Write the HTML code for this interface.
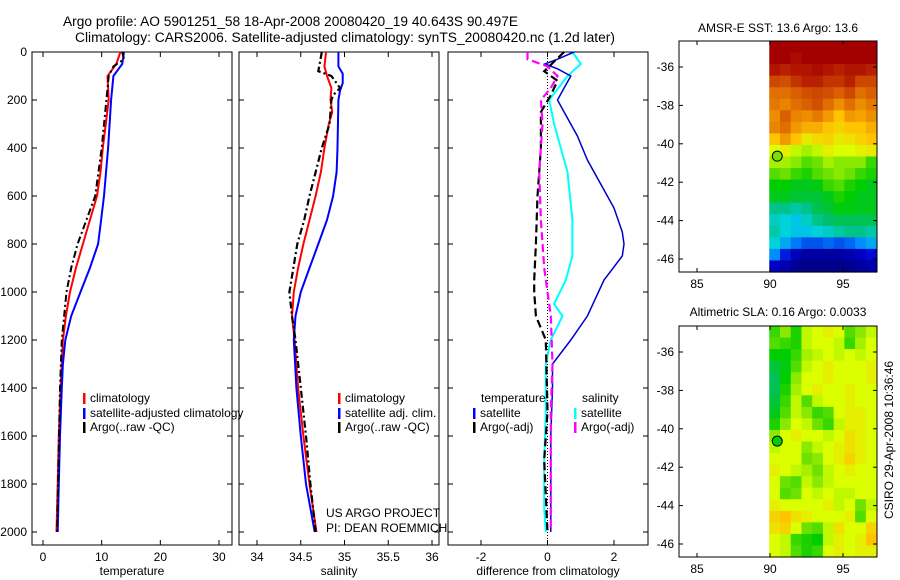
<!DOCTYPE html>
<html><head><meta charset="utf-8"><style>
body{margin:0;background:#fff;}
svg{display:block;font-family:"Liberation Sans",sans-serif;}
</style></head><body>
<svg id="fig" width="900" height="580" viewBox="0 0 900 580" xmlns="http://www.w3.org/2000/svg">
<rect width="900" height="580" fill="#fff"/>
<text x="63" y="26" font-size="13.5" textLength="455" lengthAdjust="spacingAndGlyphs">Argo profile: AO 5901251_58 18-Apr-2008 20080420_19 40.643S 90.497E</text>
<text x="75" y="42" font-size="13.5" textLength="540" lengthAdjust="spacingAndGlyphs">Climatology: CARS2006. Satellite-adjusted climatology: synTS_20080420.nc (1.2d later)</text>
<text x="778" y="32" font-size="12" text-anchor="middle">AMSR-E SST: 13.6 Argo: 13.6</text>
<text x="778" y="316" font-size="12" text-anchor="middle">Altimetric SLA: 0.16 Argo: 0.0033</text>
<text transform="translate(893,440) rotate(-90)" font-size="12" text-anchor="middle">CSIRO 29-Apr-2008 10:36:46</text>
<text x="326" y="517" font-size="12">US ARGO PROJECT</text>
<text x="326" y="532" font-size="12">PI: DEAN ROEMMICH</text>
<g id="layer"></g>
</svg>
<script>
// ---- profile data ----
const tDepthClim=[0,50,100,200,300,400,500,600,700,800,900,1000,1100,1200,1400,1600,1800,2000];
const tempClim=[13.2,12.5,11.0,11.2,10.7,10.2,9.8,9.2,8.0,6.8,5.6,4.6,3.9,3.4,3.0,2.7,2.5,2.3];
const tDepthSat=[0,50,100,200,400,600,700,800,900,1000,1100,1200,1300,1400,1600,1800,2000];
const tempSat=[13.8,13.5,12.0,11.6,11.1,10.4,9.9,9.4,8.0,6.4,4.8,3.8,3.4,3.2,2.9,2.7,2.5];
const tDepthArgo=[0,30,60,100,200,400,600,800,900,1000,1200,1400,2000];
const tempArgo=[13.5,13.8,12.0,11.2,10.8,10.0,8.9,5.9,4.8,4.0,3.2,2.9,2.4];

const sDepthClim=[0,60,100,150,200,250,300,400,500,600,700,800,900,1000,1100,1200,1400,1600,1800,2000];
const salClim=[34.79,34.77,34.8,34.85,34.84,34.86,34.82,34.77,34.73,34.67,34.6,34.53,34.47,34.42,34.4,34.43,34.47,34.53,34.6,34.68];
const sDepthSat=[0,60,90,130,160,200,400,500,600,700,800,900,1000,1100,1200,1400,1600,1800,2000];
const salSat=[34.93,34.93,34.98,34.98,34.95,34.93,34.92,34.91,34.87,34.8,34.7,34.6,34.5,34.44,34.42,34.45,34.5,34.56,34.66];
const sDepthArgo=[0,80,100,150,180,200,300,400,600,700,800,1000,1100,1200,1400,1600,1800,2000];
const salArgo=[34.74,34.7,34.85,34.95,34.87,34.85,34.83,34.74,34.6,34.54,34.46,34.37,34.4,34.44,34.5,34.56,34.61,34.67];

const dDepthTS=[0,30,50,70,100,150,200,250,350,450,550,650,750,800,850,950,1100,1200,1300,1400,1600,2000];
const diffTempSat=[0.8,0.3,-0.08,0.3,0.7,0.5,0.3,0.5,0.9,1.2,1.6,2.0,2.25,2.3,2.25,1.7,1.2,0.7,0.15,0.15,0.1,0.1];
const dDepthSS=[0,50,100,200,300,500,700,850,950,1050,1100,1200,1300,1500,1700,1900,2000];
const diffSalSat=[0.75,1.0,0.6,0.05,0.2,0.6,0.75,0.75,0.55,0.2,0.45,0.1,-0.05,-0.05,-0.1,-0.1,-0.05];
const dDepthTA=[0,40,80,120,180,250,400,600,800,950,1000,1100,1200,1500,1700,2000];
const diffTempArgo=[0.5,0.2,-0.1,0.3,0.1,-0.2,-0.2,-0.3,-0.35,-0.4,-0.4,-0.35,-0.05,0,-0.1,0];
const dDepthSA=[0,30,60,100,150,200,300,500,700,900,1100,1300,1500,2000];
const diffSalArgo=[-0.6,-0.6,0.0,0.3,0.1,-0.2,-0.15,-0.25,-0.2,-0.1,0.1,0.15,0.1,0.1];

const depthTicks=[0,200,400,600,800,1000,1200,1400,1600,1800,2000];
const tempTicks=[0,10,20,30];
const salTicks=[34,34.5,35,35.5,36];
const diffTicks=[-2,0,2];
const latTicks=[-36,-38,-40,-42,-44,-46];
const lonTicks=[85,90,95];

// ---- map data (values 0..1 on colour scale), rows north->south ----
const sstGrid=[
[1,1,1,1,1,1,1,1,1,1],
[1,1,0.99,1,1,1,1,1,1,1],
[0.98,0.97,0.98,0.98,0.99,0.98,0.97,0.98,0.98,0.97],
[0.93,0.92,0.95,0.97,0.97,0.95,0.95,0.97,0.93,0.93],
[0.88,0.88,0.9,0.92,0.93,0.92,0.9,0.93,0.88,0.9],
[0.87,0.86,0.88,0.9,0.92,0.88,0.85,0.88,0.85,0.87],
[0.85,0.9,0.86,0.85,0.87,0.84,0.8,0.84,0.83,0.85],
[0.86,0.88,0.84,0.82,0.82,0.8,0.78,0.8,0.8,0.82],
[0.8,0.84,0.8,0.75,0.77,0.78,0.75,0.76,0.78,0.8],
[0.72,0.74,0.7,0.68,0.7,0.74,0.72,0.72,0.74,0.75],
[0.68,0.68,0.66,0.62,0.64,0.68,0.66,0.66,0.66,0.6],
[0.62,0.64,0.6,0.58,0.62,0.64,0.66,0.64,0.6,0.58],
[0.56,0.56,0.54,0.54,0.55,0.6,0.62,0.58,0.56,0.54],
[0.54,0.54,0.52,0.52,0.52,0.54,0.58,0.56,0.54,0.54],
[0.46,0.46,0.44,0.46,0.5,0.52,0.55,0.55,0.54,0.54],
[0.42,0.4,0.38,0.42,0.46,0.48,0.5,0.5,0.5,0.5],
[0.44,0.4,0.38,0.38,0.4,0.42,0.44,0.46,0.46,0.44],
[0.4,0.34,0.28,0.24,0.24,0.26,0.24,0.26,0.3,0.34],
[0.3,0.18,0.1,0.06,0.06,0.06,0.06,0.08,0.12,0.16],
[0.12,0.08,0.04,0.02,0.02,0.02,0.02,0.03,0.06,0.08]];
const slaGrid=[
[0.6,0.66,0.58,0.7,0.72,0.74,0.72,0.62,0.66,0.7],
[0.62,0.6,0.58,0.7,0.72,0.72,0.7,0.6,0.68,0.72],
[0.56,0.56,0.6,0.68,0.7,0.72,0.7,0.72,0.7,0.72],
[0.52,0.55,0.62,0.7,0.72,0.74,0.72,0.72,0.72,0.74],
[0.5,0.56,0.66,0.72,0.72,0.74,0.72,0.72,0.72,0.74],
[0.5,0.58,0.68,0.72,0.74,0.72,0.72,0.74,0.72,0.72],
[0.52,0.6,0.7,0.62,0.7,0.72,0.72,0.74,0.72,0.72],
[0.54,0.62,0.7,0.66,0.6,0.62,0.72,0.74,0.74,0.72],
[0.58,0.66,0.72,0.7,0.64,0.6,0.7,0.74,0.74,0.72],
[0.66,0.72,0.74,0.72,0.72,0.7,0.72,0.76,0.74,0.72],
[0.7,0.72,0.72,0.66,0.7,0.72,0.74,0.76,0.74,0.72],
[0.72,0.72,0.72,0.64,0.66,0.72,0.74,0.78,0.74,0.72],
[0.74,0.72,0.7,0.68,0.64,0.7,0.72,0.74,0.72,0.72],
[0.72,0.64,0.62,0.7,0.66,0.7,0.72,0.72,0.72,0.72],
[0.72,0.62,0.64,0.72,0.7,0.72,0.7,0.7,0.72,0.72],
[0.74,0.72,0.72,0.72,0.72,0.74,0.7,0.72,0.64,0.7],
[0.78,0.8,0.76,0.74,0.72,0.72,0.72,0.74,0.62,0.72],
[0.76,0.78,0.72,0.64,0.62,0.7,0.76,0.72,0.72,0.78],
[0.72,0.7,0.6,0.58,0.56,0.7,0.74,0.72,0.74,0.8],
[0.72,0.7,0.62,0.58,0.6,0.72,0.74,0.72,0.74,0.74]];
const argoLon=[90.497];
const argoLat=[-40.643];

const NS='http://www.w3.org/2000/svg';
const layer=document.getElementById('layer');
function el(tag,attrs,parent){const e=document.createElementNS(NS,tag);for(const k in attrs)e.setAttribute(k,attrs[k]);(parent||layer).appendChild(e);return e;}

const yTop=52,yBot=545;
const depthY=d=>52+d*0.24;
function lin(d0,d1,r0,r1){return v=>r0+(v-d0)*(r1-r0)/(d1-d0);}

const panels=[
 {name:'temperature-panel',x0:32,x1:232,xs:lin(0,30,43,219),ticks:tempTicks,label:'temperature',yl:true},
 {name:'salinity-panel',x0:239,x1:439,xs:lin(34,36,257,432),ticks:salTicks,label:'salinity'},
 {name:'difference-panel',x0:448,x1:648,xs:lin(-2,2,481,614),ticks:diffTicks,label:'difference from climatology'}
];
panels.forEach(p=>{
 const g=el('g',{});
 
 
 p.g=g;
 el('rect',{x:p.x0,y:yTop,width:p.x1-p.x0,height:yBot-yTop,fill:'none',stroke:'#000','stroke-width':1},g);
 depthTicks.forEach(d=>{const y=depthY(d);
  el('line',{x1:p.x0,x2:p.x0+5,y1:y,y2:y,stroke:'#000'},g);
  el('line',{x1:p.x1,x2:p.x1-5,y1:y,y2:y,stroke:'#000'},g);
  if(p.yl){const t=el('text',{x:p.x0-5,y:y+4,'font-size':12,'text-anchor':'end'},g);t.textContent=d;
   
   }
 });
 p.ticks.forEach(v=>{const x=p.xs(v);
  el('line',{x1:x,x2:x,y1:yBot,y2:yBot-5,stroke:'#000'},g);
  el('line',{x1:x,x2:x,y1:yTop,y2:yTop+5,stroke:'#000'},g);
  const t=el('text',{x:x,y:yBot+16,'font-size':12,'text-anchor':'middle'},g);t.textContent=v;
  
  
 });
 const lab=el('text',{x:(p.x0+p.x1)/2,y:575,'font-size':12,'text-anchor':'middle'},g);lab.textContent=p.label;
 
 
});
function line(p,depths,vals,color,w,dash,name){
 const pts=depths.map((d,i)=>p.xs(vals[i]).toFixed(1)+','+depthY(d).toFixed(1)).join(' ');
 const a={points:pts,fill:'none',stroke:color,'stroke-width':w};
 if(dash)a['stroke-dasharray']=dash;
 const l=el('polyline',a,p.g);
 
 
}
const P1=panels[0],P2=panels[1],P3=panels[2];
line(P1,tDepthClim,tempClim,'#f00',2,null,'temp-climatology-line');
line(P1,tDepthSat,tempSat,'#00f',2,null,'temp-satellite-line');
line(P1,tDepthArgo,tempArgo,'#000',2,'7,3,2,3','temp-argo-line');
line(P2,sDepthClim,salClim,'#f00',2,null,'sal-climatology-line');
line(P2,sDepthSat,salSat,'#00f',2,null,'sal-satellite-line');
line(P2,sDepthArgo,salArgo,'#000',2.2,'7,3,2,3','sal-argo-line');
const z=el('line',{x1:P3.xs(0),x2:P3.xs(0),y1:yTop,y2:yBot,stroke:'#000','stroke-dasharray':'1,2'},P3.g);


line(P3,dDepthSS,diffSalSat,'#0ff',2,null,'diff-salinity-satellite-line');
line(P3,dDepthTS,diffTempSat,'#00c',1.5,null,'diff-temperature-satellite-line');
line(P3,dDepthTA,diffTempArgo,'#000',2.2,'8,4','diff-temperature-argo-line');
line(P3,dDepthSA,diffSalArgo,'#f0f',2.2,'8,4','diff-salinity-argo-line');

function legend(g,x,y,color,text){
 const b=el('rect',{x:x,y:y-9,width:2.5,height:11,fill:color},g);
 
 
 const t=el('text',{x:x+7,y:y,'font-size':12},g);t.textContent=text;
 
 
}
legend(P1.g,83,402,'#f00','climatology');
legend(P1.g,83,417,'#00f','satellite-adjusted climatology');
legend(P1.g,83,431,'#000','Argo(..raw -QC)');
legend(P2.g,338,402,'#f00','climatology');
legend(P2.g,338,417,'#00f','satellite adj. clim.');
legend(P2.g,338,431,'#000','Argo(..raw -QC)');
const lt=el('text',{x:481,y:402,'font-size':12},P3.g);lt.textContent='temperature';


const ls=el('text',{x:582,y:402,'font-size':12},P3.g);ls.textContent='salinity';


legend(P3.g,473,417,'#00f','satellite');
legend(P3.g,473,431,'#000','Argo(-adj)');
legend(P3.g,574,417,'#0ff','satellite');
legend(P3.g,574,431,'#f0f','Argo(-adj)');

const stops=[[0,[0,0,128]],[0.15,[0,0,210]],[0.3,[0,140,255]],[0.4,[0,210,220]],[0.48,[0,190,110]],[0.56,[0,205,0]],[0.64,[110,225,0]],[0.72,[220,255,0]],[0.8,[255,195,0]],[0.88,[225,110,0]],[0.94,[200,64,0]],[1,[165,0,0]]];
function cmap(v){for(let i=1;i<stops.length;i++){if(v<=stops[i][0]){const a=stops[i-1],b=stops[i],t=(v-a[0])/(b[0]-a[0]);return 'rgb('+a[1].map((c,k)=>Math.round(c+(b[1][k]-c)*t)).join(',')+')';}}return 'rgb(165,0,0)';}

function drawMap(name,top,grid,dotFill){
 const x0=679,x1=877,y0=top,y1=top+231;
 const lonX=lin(85,95,697,843), latY=lin(-36,-46,top+26,top+218);
 const g=el('g',{});
 
 
 const gx0=lonX(89.95),gx1=lonX(97.3);
 const rows=grid.length,cols=grid[0].length;
 const cw=(gx1-gx0)/cols,ch=(y1-y0)/rows;
 grid.forEach((row,r)=>row.forEach((v,c)=>{
  const cell=el('rect',{x:(gx0+c*cw).toFixed(2),y:(y0+r*ch).toFixed(2),width:(cw+0.6).toFixed(2),height:(ch+0.6).toFixed(2),fill:cmap(v)},g);
  
  
 }));
 el('rect',{x:x0,y:y0,width:x1-x0,height:y1-y0,fill:'none',stroke:'#000'},g);
 latTicks.forEach(l=>{const y=latY(l);
  el('line',{x1:x0,x2:x0+4,y1:y,y2:y,stroke:'#000'},g);
  el('line',{x1:x1,x2:x1-4,y1:y,y2:y,stroke:'#000'},g);
  const t=el('text',{x:x0-5,y:y+4,'font-size':12,'text-anchor':'end'},g);t.textContent=l;
  
  
 });
 lonTicks.forEach(l=>{const x=lonX(l);
  el('line',{x1:x,x2:x,y1:y0,y2:y0+4,stroke:'#000'},g);
  el('line',{x1:x,x2:x,y1:y1,y2:y1-4,stroke:'#000'},g);
  const t=el('text',{x:x,y:y1+16,'font-size':12,'text-anchor':'middle'},g);t.textContent=l;
  
  
 });
 const d=el('circle',{cx:lonX(argoLon[0]),cy:latY(argoLat[0]),r:5,fill:dotFill,stroke:'#000','stroke-width':1},g);
 
 
}
drawMap('sst-map',41,sstGrid,'#7fe000');
drawMap('sla-map',326,slaGrid,'#00d000');
</script>
</body></html>
